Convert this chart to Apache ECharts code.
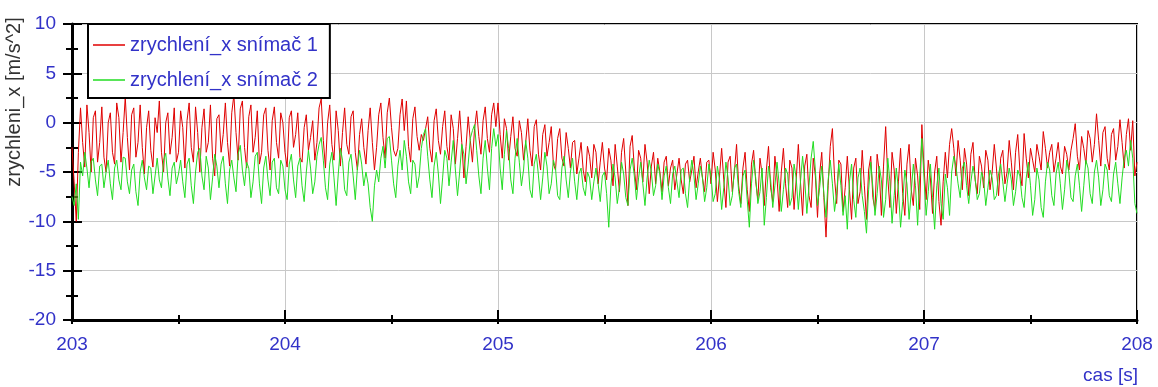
<!DOCTYPE html>
<html>
<head>
<meta charset="utf-8">
<script src="https://cdn.jsdelivr.net/npm/echarts@6/dist/echarts.min.js"></script>
<style>
html,body{margin:0;padding:0;background:#fff;}
#c{width:1158px;height:387px;}
</style>
</head>
<body>
<div id="c"></div>
<script>
// sampling of the record
const T_START = 203;
const T_STEP = 0.01;
const xTicks = [203, 204, 205, 206, 207, 208];
const yTicks = [-20, -15, -10, -5, 0, 5, 10];
const seriesNames = ['zrychlení_x snímač 1', 'zrychlení_x snímač 2'];

// series 1 (red), one array per second
const red203 = [-2.5,-6,-10,-3,1.5,-2,-4.5,1.8,-1,-5,0.5,1.2,-4,-2,1.6,-3.5,-5,0,1,-3,-4.2,2,0.5,-4,-1,2.6,-1.5,-4.8,0.8,1.5,-3.5,-2,1.8,-2.5,-5.2,-0.5,1.2,-2.8,-4.5,0.5,-1,2.2,-3,-5,0,1,-3.2,-1.5,1.5,-4,-3,1.2,-0.5,-4.6,0.2,2,-2.5,-4,1.6,-1,-5,-0.5,1.4,-3,-2,1.8,-3.6,-5.4,0.4,0.8,-3,-1.2,2,-2,-4.4,1,2.8,-1,-3.8,1.4,2.2,-2.5,-4.6,0.6,1.8,-3,-1.5,1.2,-4.2,-3,0.8,1.5,-2.8,-4.8,0.2,1.6,-2,-3.6,1,0];
const red204 = [-3,-4.5,0.5,1.2,-2.5,-1.2,1,-3.5,-4,-0.5,0.8,-2.8,-1.5,0.2,-3.8,-2,1.5,2.4,-1.8,-4.6,0,1.8,-2.2,-3.8,1.2,-0.8,-4.4,-1,1.5,-2.2,-3.2,0.6,1.2,-3,-4.8,-1.2,0.4,-2.5,-4.2,-0.8,1.5,-2,-4.8,-2.5,0.8,2,-1.5,-3.6,1,2.5,-0.5,-2.8,-3.4,-2.6,0.8,2.4,-0.8,2.2,-2.4,-4,0.4,1.6,-1.4,-2.8,-1.2,-1.8,-0.6,0.6,-2.6,-4,0.2,1.4,-1.8,-3.2,-0.4,1.2,-2.4,-3.8,0.8,-0.6,-4.2,-1.6,1.2,-2,-5.6,-2.4,0.6,-1.8,-4,-0.6,1.2,-1.4,-3.2,0.2,1.6,-1.6,-3,0.8,2,-0.4];
const red205 = [2,-1.2,-3.6,0.4,-0.6,-3.8,-1.4,0.6,-2.6,-3.4,0.2,-1,-3.8,-2,0.4,-2.8,-4.4,-0.4,0.3,-3.2,-4.8,-1.2,-0.2,-3.4,-2,-0.4,-4.2,-4.8,-1.6,-0.6,-3.6,-4.4,-1,-2.6,-4.6,-2,-1.8,-5.2,-3.6,-2,-4.8,-6,-2.4,-3.4,-5.6,-2.2,-3,-6.2,-4,-2,-4.6,-5.8,-2.6,-3.8,-6.4,-2.2,-4.4,-7,-3,-1.6,-5,-8.4,-2.4,-1.3,-4.6,-6.8,-2.8,-3.6,-6,-2.2,-4,-7.2,-4.4,-3,-6.2,-3.6,-5,-7,-4,-3.4,-6.4,-4.6,-3.8,-6.8,-5.2,-3.6,-5.8,-7.2,-4.2,-3.8,-6,-4.8,-3.4,-6.6,-5,-3.6,-5.6,-7,-4,-3.8];
const red206 = [-6.2,-3,-4.8,-8,-5.4,-2.6,-5.8,-8.6,-4,-3.4,-7,-5,-2.2,-6.4,-8.2,-4.6,-3,-6.8,-9,-4.2,-2.8,-6,-7.8,-3.6,-5.2,-8.4,-4.8,-2.4,-6.6,-8,-3.4,-5.6,-9,-5,-2.6,-6.2,-8.6,-3.8,-4.6,-8.8,-5.8,-2.2,-6,-9.4,-4.4,-3.2,-7.4,-8.6,-3.6,-5.4,-9.6,-5.2,-3,-7.6,-11.6,-6.4,-2.4,-0.6,-5.6,-8.2,-3.8,-4.2,-9,-6.6,-3.4,-6.8,-9.8,-4.6,-3.6,-8.2,-7,-2.8,-6.4,-9.8,-4.8,-3.4,-7.6,-8.8,-3.2,-5,-9.4,-4.4,-0.4,-5.6,-8.6,-3,-4.8,-9.2,-6,-2.6,-7.2,-9.4,-4.2,-2.2,-6.8,-8.4,-3.6,-5.4,-8.8,-0.2];
const red207 = [-4.6,-7.8,-3.8,-5.6,-9.2,-5,-3.4,-8,-10.4,-6,-3,-5.6,-2.2,-0.6,-2.6,-5.4,-1.8,-3.8,-6.8,-2.6,-4.2,-7.4,-3.2,-2,-5.8,-7.2,-3.4,-4.4,-6.6,-2.8,-3.8,-6.8,-5,-2.2,-4.6,-7.4,-3.6,-2.8,-6.2,-5,-1.8,-4,-6.8,-3,-1.2,-4.8,-6.4,-1.1,-3.6,-5.6,-2.6,-3.8,-5,-2.2,-3.4,-4.8,-0.9,-2.6,-4.6,-3,-2.2,-5,-3.6,-2,-4.4,-5.2,-2.4,-3.2,-4.8,-2.8,-1.6,-0.1,-3.4,-4.8,-1.4,-2.6,-4.2,-0.8,-1.6,-4,-2.2,0.9,-1.8,-4.4,-1,-0.4,-3.6,-4.8,-1.2,-0.6,-3.8,-2.4,0.3,-2,-4.6,-1.2,0.4,-2.8,0.2,-5.4,-4];

// series 2 (green), one array per second
const green203 = [-7.5,-8.4,-6.2,-9.8,-4,-5.4,-3,-4.6,-6.6,-4,-3.6,-5.8,-7.4,-4.4,-4.2,-6.6,-5,-3.8,-6.2,-7.8,-4.6,-3.8,-5.8,-6.8,-3.5,-3.6,-6,-7.2,-4.8,-4.2,-7,-8.4,-5,-3.8,-5.6,-6.8,-4.4,-4.6,-7.2,-5.4,-3.6,-5.8,-6.6,-3.8,-3.1,-5.6,-7.4,-4.6,-4,-6.2,-5.2,-3.8,-6,-7.6,-4.2,-3.6,-6.4,-8.2,-5,-3,-2.6,-5.4,-6.8,-3.4,-4.6,-7.8,-5.6,-3.2,-4.4,-6.6,-4.2,-3.4,-6.2,-8.2,-4.8,-3.8,-5.6,-7,-3.2,-2.3,-4.8,-6.4,-4,-4.6,-7.6,-6,-3.4,-3,-6.2,-8.2,-4.6,-3.4,-5.8,-7.4,-4,-3.6,-6.6,-7.2,-3.8,-4.4];
const green204 = [-6.8,-7.8,-4.2,-3.2,-5.8,-7.6,-4.4,-3.6,-6.4,-8,-5,-2.8,-4.6,-7.2,-6,-3.4,-2.2,-1.5,-3.8,-6.6,-7.8,-4.2,-3,-5.6,-8.4,-5.2,-2.6,-3.8,-6.8,-7.4,-4,-3.2,-5.4,-7.8,-4.6,-2.8,-4.2,-6.4,-5,-6.2,-8.6,-10,-6.4,-4.8,-6,-3.6,-2.4,-4.6,-1.6,-1.4,-3.8,-6.2,-7.6,-4.4,-2.8,-4.8,-1.8,-3.4,-6,-7.2,-3.8,-4.2,-6.6,-5.4,-2.6,-1.2,-0.6,-3.4,-5.8,-7.6,-4.4,-3,-5.2,-8.2,-5.6,-2.8,-3.6,-6.4,-4,-1.8,-4.8,-7.4,-5,-2.2,-3.2,-6.2,-4.2,-1.6,-0.8,-0.2,-2.8,-5.4,-7.2,-3.6,-1.8,-4.6,-6.8,-2.6,-0.6,-2.4];
const green205 = [-1.2,-4.6,-6.8,-3.2,-0.8,-2.6,-5.8,-7.2,-3.6,-1.6,-4,-6.4,-4.8,-1.8,-3.6,-6.8,-7.6,-4.2,-3.2,-5.4,-7.8,-5.6,-3,-4.4,-7.2,-6.2,-3.8,-4.6,-7.4,-7.8,-4.6,-3.4,-5.8,-7.6,-5,-3.6,-6,-7.8,-5.2,-4.6,-6.6,-7.4,-5,-5.6,-7.8,-6,-4.6,-6.2,-8,-5.4,-5,-7.2,-10.6,-6.4,-4.2,-5.6,-8.2,-6.6,-4,-5.2,-7.6,-8.4,-4.8,-3.6,-5.4,-7.8,-5.6,-4,-6.2,-8.4,-5.6,-3.8,-5,-7.4,-6.4,-4.2,-5.2,-7.8,-5.4,-4.4,-6.6,-8.2,-5.2,-4.4,-6,-7.6,-4.8,-4.6,-7.2,-8.6,-5.6,-3.8,-5.4,-7.8,-6.2,-4.4,-5.6,-8,-6.6,-4.2];
const green206 = [-5.4,-8,-7.2,-4.4,-5.8,-8.8,-6.6,-4,-5.6,-8.4,-7.4,-4.6,-4.2,-7,-8.6,-5.4,-4.8,-7.8,-10.6,-6.2,-3.8,-5.6,-8.2,-7,-4.6,-10.4,-7.6,-4.4,-5.8,-8.6,-6.4,-4,-6.2,-9,-6.8,-4.6,-5.2,-8.4,-7.6,-4.2,-5.6,-8.8,-6,-3.4,-5.8,-9.2,-6.4,-3.6,-1.9,-4.8,-8.4,-6.6,-4.4,-7.2,-9.6,-5.8,-3.8,-6.2,-9,-7.2,-4.2,-6.4,-9.4,-7.4,-10.8,-6,-4.2,-7.8,-9.6,-5.6,-4.6,-7.4,-9,-11.2,-6.8,-4,-6.6,-9.4,-7.2,-4.4,-5.8,-9.6,-7.8,-3.6,-6,-10.2,-7.4,-4.6,-6.8,-10.6,-8,-4.8,-6.2,-9.8,-7,-4.2,-6.4,-10.4,-5.4,-1.6];
const green207 = [-5.6,-9.4,-7,-4.2,-7.6,-10.8,-6.4,-4.6,-8.2,-9.8,-5.2,-6.6,-9.4,-5,-3.4,-4.4,-6.2,-7.6,-4.6,-4,-6.4,-8.2,-6,-4.4,-5.6,-7.8,-7.2,-5,-5.8,-8.4,-6.6,-4.8,-5.6,-7.8,-7.4,-5.2,-4.2,-6,-8,-6.2,-4.6,-5.8,-8.4,-7,-4.8,-5.4,-7.6,-8.6,-5.6,-4,-6.4,-9.4,-7.8,-4.6,-5.8,-8.6,-9.6,-6,-4,-4.8,-7.4,-8.4,-5.2,-4,-6.2,-8.8,-6.8,-3.8,-5,-7.6,-8,-5.4,-4.2,-6.4,-9,-6.4,-3.8,-4.6,-7.2,-8.2,-5,-3.8,-5.6,-8.4,-6.8,-4.2,-4.8,-7.4,-8,-5.2,-4,-6.2,-8.2,-5.6,-3.6,-2.8,-4.4,-1.8,-3.6,-8.2,-9.2];

const redValues = [].concat(red203, red204, red205, red206, red207);
const greenValues = [].concat(green203, green204, green205, green206, green207);

function toPairs(vals) {
  return vals.map(function (v, i) {
    return [Math.round((T_START + i * T_STEP) * 1000) / 1000, v];
  });
}

const FONT = 'Liberation Sans, Arial, sans-serif';
const BLUE = '#3232c8';

const chart = echarts.init(document.getElementById('c'), null, { renderer: 'canvas' });

const baseX = {
  type: 'value', gridIndex: 0, min: xTicks[0], max: xTicks[xTicks.length - 1], interval: 1
};
const baseY = {
  type: 'value', gridIndex: 0, min: yTicks[0], max: yTicks[yTicks.length - 1], interval: 5
};

chart.setOption({
  animation: false,
  backgroundColor: '#ffffff',
  grid: {
    left: 72, right: 21, top: 24, bottom: 67,
    show: true, borderColor: '#000', borderWidth: 2, backgroundColor: 'transparent'
  },
  legend: {
    left: 88, top: 24,
    orient: 'vertical',
    backgroundColor: '#ffffff',
    borderColor: '#000', borderWidth: 2,
    padding: [11, 12, 8, 5],
    itemGap: 15,
    icon: 'rect',
    itemWidth: 32, itemHeight: 1.5,
    textStyle: { color: BLUE, fontSize: 20, fontFamily: FONT, lineHeight: 20 },
    data: seriesNames,
    z: 10
  },
  xAxis: [
    Object.assign({}, baseX, {
      position: 'bottom',
      axisLine: { show: true, onZero: false, lineStyle: { color: '#000', width: 3 } },
      axisTick: { show: true, inside: true, length: 10, lineStyle: { color: '#000', width: 2 } },
      minorTick: { show: true, splitNumber: 2, length: 5, lineStyle: { color: '#000', width: 2 } },
      axisLabel: { color: BLUE, fontSize: 19, fontFamily: FONT, margin: 15,
        formatter: function (v) { return String(v); } },
      splitLine: { show: true, lineStyle: { color: '#c8c8c8', width: 1 } }
    }),
    Object.assign({}, baseX, {
      position: 'bottom',
      axisLine: { show: false, onZero: false },
      axisTick: { show: true, inside: false, length: 4, lineStyle: { color: '#000', width: 2 } },
      minorTick: { show: true, splitNumber: 2, length: 4, lineStyle: { color: '#000', width: 2 } },
      axisLabel: { show: false },
      splitLine: { show: false }
    })
  ],
  yAxis: [
    Object.assign({}, baseY, {
      position: 'left',
      axisLine: { show: true, onZero: false, lineStyle: { color: '#000', width: 3 } },
      axisTick: { show: true, inside: false, length: 9, lineStyle: { color: '#000', width: 2 } },
      minorTick: { show: true, splitNumber: 2, length: 6, lineStyle: { color: '#000', width: 2 } },
      axisLabel: { color: BLUE, fontSize: 19, fontFamily: FONT, margin: 16 },
      splitLine: { show: true, lineStyle: { color: '#c8c8c8', width: 1 } }
    }),
    Object.assign({}, baseY, {
      position: 'left',
      axisLine: { show: false, onZero: false },
      axisTick: { show: true, inside: true, length: 10, lineStyle: { color: '#000', width: 2 } },
      minorTick: { show: true, splitNumber: 2, length: 6, lineStyle: { color: '#000', width: 2 } },
      axisLabel: { show: false },
      splitLine: { show: false }
    })
  ],
  graphic: [
    {
      type: 'text', x: 14, y: 102, rotation: Math.PI / 2,
      style: { text: 'zrychleni_x [m/s^2]', fill: '#333', font: '20px ' + FONT,
        textAlign: 'center', textVerticalAlign: 'middle' }
    },
    {
      type: 'text', x: 1138, y: 376,
      style: { text: 'cas [s]', fill: BLUE, font: '19px ' + FONT,
        textAlign: 'right', textVerticalAlign: 'middle' }
    }
  ],
  series: [
    {
      name: seriesNames[0], type: 'line', xAxisIndex: 0, yAxisIndex: 0,
      data: toPairs(redValues), symbol: 'none', showSymbol: false,
      lineStyle: { color: '#e00000', width: 1 }, itemStyle: { color: '#e00000' },
      z: 2
    },
    {
      name: seriesNames[1], type: 'line', xAxisIndex: 0, yAxisIndex: 0,
      data: toPairs(greenValues), symbol: 'none', showSymbol: false,
      lineStyle: { color: '#22dd22', width: 1 }, itemStyle: { color: '#22dd22' },
      z: 3
    }
  ]
});
</script>
</body>
</html>
